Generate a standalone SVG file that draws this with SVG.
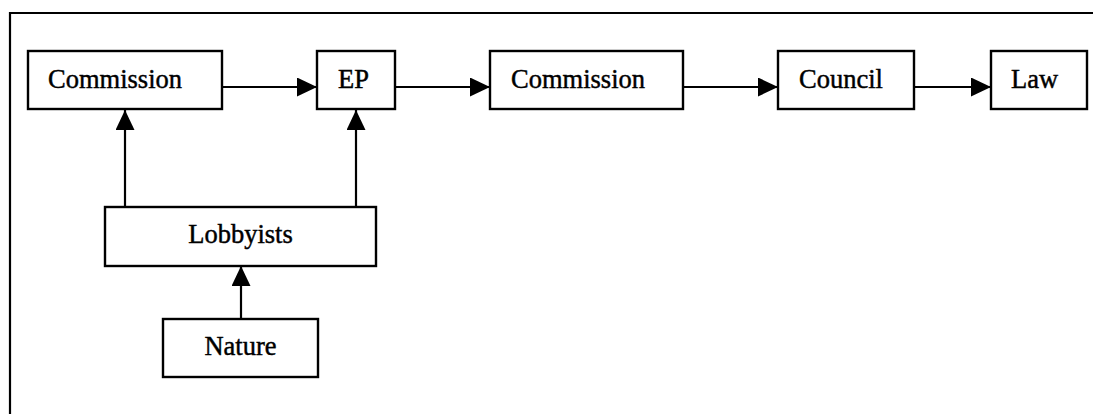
<svg xmlns="http://www.w3.org/2000/svg" width="1093" height="414" viewBox="0 0 1093 414">
  <style>
    .box { fill: #fff; stroke: #000; stroke-width: 2.4; }
    .lbl { font-family: "Liberation Serif", "Times New Roman", serif; font-size: 26.5px; fill: #000; stroke: #000; stroke-width: 0.45; }
    .mid { text-anchor: middle; }
    .edge { stroke: #000; stroke-width: 2.2; fill: none; marker-end: url(#head); }
  </style>
  <defs>
    <marker id="head" viewBox="0 0 20 19" refX="20" refY="9.5" markerWidth="20" markerHeight="19" markerUnits="userSpaceOnUse" orient="auto">
      <path d="M0,0 L20,9.5 L0,19 Z" fill="#000"/>
    </marker>
  </defs>
  <rect width="1093" height="414" fill="#fff"/>
  <!-- outer frame -->
  <path d="M10,414 V13 H1093" fill="none" stroke="#000" stroke-width="2.2"/>

  <g id="connectors">
    <line class="edge" x1="222" y1="87" x2="317" y2="87"/>
    <line class="edge" x1="395" y1="87" x2="490" y2="87"/>
    <line class="edge" x1="683" y1="87" x2="778" y2="87"/>
    <line class="edge" x1="914" y1="87" x2="991" y2="87"/>
    <line class="edge" x1="125" y1="207" x2="125" y2="110"/>
    <line class="edge" x1="356" y1="207" x2="356" y2="110"/>
    <line class="edge" x1="241" y1="319" x2="241" y2="266"/>
  </g>

  <g id="commission1">
    <rect class="box" x="28" y="51" width="194" height="58"/>
    <text class="lbl" x="48" y="88">Commission</text>
  </g>
  <g id="ep">
    <rect class="box" x="317" y="51" width="78" height="58"/>
    <text class="lbl" x="338" y="88">EP</text>
  </g>
  <g id="commission2">
    <rect class="box" x="490" y="51" width="193" height="58"/>
    <text class="lbl" x="511" y="88">Commission</text>
  </g>
  <g id="council">
    <rect class="box" x="778" y="51" width="136" height="58"/>
    <text class="lbl" x="799" y="88">Council</text>
  </g>
  <g id="law">
    <rect class="box" x="991" y="51" width="96" height="58"/>
    <text class="lbl" x="1011" y="88">Law</text>
  </g>
  <g id="lobbyists">
    <rect class="box" x="105" y="207" width="271" height="59"/>
    <text class="lbl mid" x="240.5" y="243">Lobbyists</text>
  </g>
  <g id="nature">
    <rect class="box" x="163" y="319" width="155" height="58"/>
    <text class="lbl mid" x="240.5" y="355">Nature</text>
  </g>
</svg>
